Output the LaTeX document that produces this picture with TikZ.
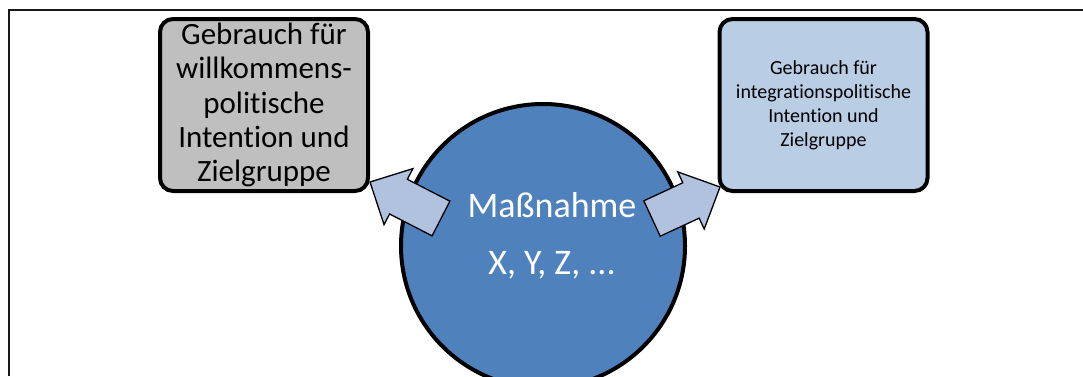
\documentclass[tikz,border=0pt]{standalone}
\usepackage{fontspec}
\setmainfont{Carlito}[Ligatures=NoCommon]
\usetikzlibrary{calc}
\definecolor{boxgray}{HTML}{BFBFBF}
\definecolor{boxblue}{HTML}{B9CDE5}
\definecolor{circblue}{HTML}{4F81BD}
\definecolor{arrblue}{HTML}{B0C2DE}
\begin{document}
\begin{tikzpicture}[x=1pt,y=-1pt,
  framestyle/.style={line width=2pt, draw=black!90},
  boxstyle/.style={draw=black, line width=4pt, rounded corners=13pt, minimum width=208pt, minimum height=172pt, inner sep=0pt, align=center},
  blockarrow/.style={draw=black, line width=1.3pt, fill=arrblue, line join=miter}]
\useasboundingbox (0,0) rectangle (1083,376);
\coordinate (fbl) at (9,376);
\coordinate (ftl) at (9,10);
\coordinate (ftr) at (1083,10);
\draw[framestyle] (fbl) -- (ftl) -- (ftr);

\node[boxstyle, fill=boxgray, font=\fontsize{31}{34.25}\selectfont] (L) at (264,105) {Gebrauch für\\willkommens-\\politische\\Intention und\\Zielgruppe};
\node[boxstyle, fill=boxblue, font=\fontsize{20}{24}\selectfont] (R) at (823.5,105) {Gebrauch für\\integrationspolitische\\Intention und\\Zielgruppe};

\node[circle, draw=black, line width=4pt, fill=circblue, minimum size=284pt, inner sep=0pt] (C) at (543,246) {};
\node[text=white, font=\fontsize{36}{57}\selectfont, align=center, inner sep=0pt] (T) at (552,236) {Maßnahme\\X, Y, Z, ...};

% left block arrow
\coordinate (la0) at (441,218.5);
\coordinate (la1) at (370,182);
\coordinate (lh) at ($(la1)!32pt!(la0)$);
\draw[blockarrow] ($(la0)!19.5pt!90:(la1)$) -- ($(lh)!19.5pt!-90:(la0)$) -- ($(lh)!31.5pt!-90:(la0)$) -- (la1)
  -- ($(lh)!31.5pt!90:(la0)$) -- ($(lh)!19.5pt!90:(la0)$) -- ($(la0)!19.5pt!-90:(la1)$) -- cycle;

% right block arrow
\coordinate (ra0) at (652,218.5);
\coordinate (ra1) at (720,187);
\coordinate (rh) at ($(ra1)!32pt!(ra0)$);
\draw[blockarrow] ($(ra0)!19.5pt!90:(ra1)$) -- ($(rh)!19.5pt!-90:(ra0)$) -- ($(rh)!31.5pt!-90:(ra0)$) -- (ra1)
  -- ($(rh)!31.5pt!90:(ra0)$) -- ($(rh)!19.5pt!90:(ra0)$) -- ($(ra0)!19.5pt!-90:(ra1)$) -- cycle;
\end{tikzpicture}
\end{document}
